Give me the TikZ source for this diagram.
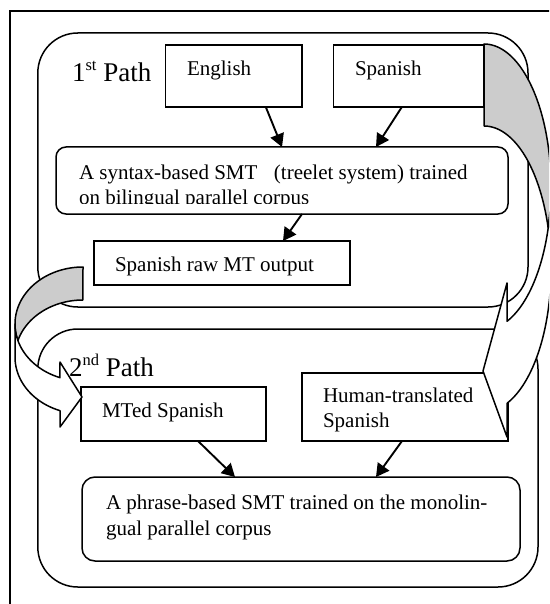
\documentclass[tikz,border=0pt]{standalone}
\usepackage{fontspec}
\setmainfont{Liberation Serif}
\usetikzlibrary{arrows.meta}
\definecolor{shadegray}{RGB}{204,204,204}
\begin{document}
\begin{tikzpicture}[x=1pt,y=-1pt,
  box/.style={draw, line width=1.5pt, fill=white, inner sep=0pt, outer sep=0pt, anchor=north west},
  bigbox/.style={box, rounded corners=40pt},
  txt/.style={inner sep=0pt, outer sep=0pt, anchor=base west, font=\fontsize{21}{25}\selectfont},
  pathlbl/.style={txt, font=\fontsize{27}{30}\selectfont},
  conn/.style={line width=1.9pt, -{Triangle[length=13pt,width=14pt]}},
  band/.style={line width=1.5pt, line join=round}
]
\useasboundingbox (0,0) rectangle (549,604);
\clip (0,0) rectangle (549,604);
\fill[white] (0,0) rectangle (549,604);
% outer frame (cropped)
\draw[line width=1.5pt] (10,700) -- (10,11) -- (700,11);
% path containers
\node[bigbox, minimum width=490.2pt, minimum height=274pt] (path1) at (37.8,33) {};
\node[bigbox, minimum width=500.2pt, minimum height=258pt] (path2) at (37.8,329) {};
% boxes
\node[box, minimum width=136.4pt, minimum height=62pt] (eng) at (165.6,45) {};
\node[box, minimum width=150.3pt, minimum height=62pt] (spa) at (333.7,45) {};
\node[box, rounded corners=10pt, minimum width=452pt, minimum height=67pt] (smt) at (56,147) {};
\node[box, minimum width=256pt, minimum height=44pt] (raw) at (94,241) {};
\node[box, minimum width=185pt, minimum height=54pt] (mted) at (81,387) {};
\node[box, minimum width=206pt, minimum height=68pt] (hum) at (302,373) {};
\node[box, rounded corners=13pt, minimum width=438pt, minimum height=84pt] (phr) at (82,477) {};
% texts
\node[pathlbl] (lbl1) at (72,82) {1\raisebox{11pt}{\fontsize{16.5}{16.5}\selectfont st} Path};
\node[pathlbl] (lbl2) at (69,376) {2\raisebox{11pt}{\fontsize{16.5}{16.5}\selectfont nd} Path};
\node[txt] (tEng) at (187,76) {English};
\node[txt] (tSpa) at (355,76) {Spanish};
\node[txt] (tSmtA) at (79,179) {A syntax-based SMT\hspace{16.5pt}(treelet system) trained};
\begin{scope}
\clip (56,147) rectangle (508,203.5);
\node[txt] (tSmtB) at (79,204) {on bilingual parallel corpus};
\end{scope}
\node[txt] (tRaw) at (115,271) {Spanish raw MT output};
\node[txt] (tMted) at (102,417) {MTed Spanish};
\node[txt] (tHumA) at (323,402) {Human-translated};
\node[txt] (tHumB) at (323,427) {Spanish};
\node[txt] (tPhrA) at (106,509) {A phrase-based SMT trained on the monolin-};
\node[txt] (tPhrB) at (106,535) {gual parallel corpus};
% connectors
\draw[conn] ([xshift=32pt]eng.south) -- (smt.north);
\draw[conn] ([xshift=-7pt]spa.south) -- ([xshift=94pt]smt.north);
\draw[conn] ([xshift=20pt]smt.south) -- ([xshift=61pt]raw.north);
\draw[conn] ([xshift=24.5pt]mted.south) -- ([xshift=-66pt]phr.north);
\draw[conn] ([xshift=-3pt]hum.south) -- ([xshift=75pt]phr.north);
% left curved arrow: back face
\draw[band, fill=shadegray]
  plot[domain=0:1,samples=60] ({83+68*cos(270-106.83*\x)}, {324+57*sin(270-106.83*\x)})
  -- plot[domain=0:1,samples=40] ({83+68*cos(196.83+73.17*\x)}, {357+57*sin(196.83+73.17*\x)})
  -- cycle;
% left curved arrow: front face
\draw[band, fill=white]
  plot[domain=0:1,samples=50] ({83+68*cos(180-70.23*\x)}, {324+57*sin(180-70.23*\x)})
  -- (60,362) -- (82,397) -- (60,427) -- (60,410.6)
  -- plot[domain=0:1,samples=50] ({83+68*cos(109.77+70.23*\x)}, {357+57*sin(109.77+70.23*\x)})
  -- cycle;
% right curved arrow: back face
\draw[band, fill=shadegray]
  plot[domain=0:1,samples=60] ({484+67*cos(270+106.66*\x)}, {187+143*sin(270+106.66*\x)})
  -- plot[domain=0:1,samples=40] ({484+67*cos(343.34-73.34*\x)}, {269+143*sin(343.34-73.34*\x)})
  -- cycle;
% right curved arrow: front face
\draw[band, fill=white]
  plot[domain=0:1,samples=50] ({484+67*cos(69.92*\x)}, {187+143*sin(69.92*\x)})
  -- (507,283) -- (483,371) -- (507,437) -- (507,403.3)
  -- plot[domain=0:1,samples=50] ({484+67*cos(69.92*(1-\x))}, {269+143*sin(69.92*(1-\x))})
  -- cycle;
\end{tikzpicture}
\end{document}
